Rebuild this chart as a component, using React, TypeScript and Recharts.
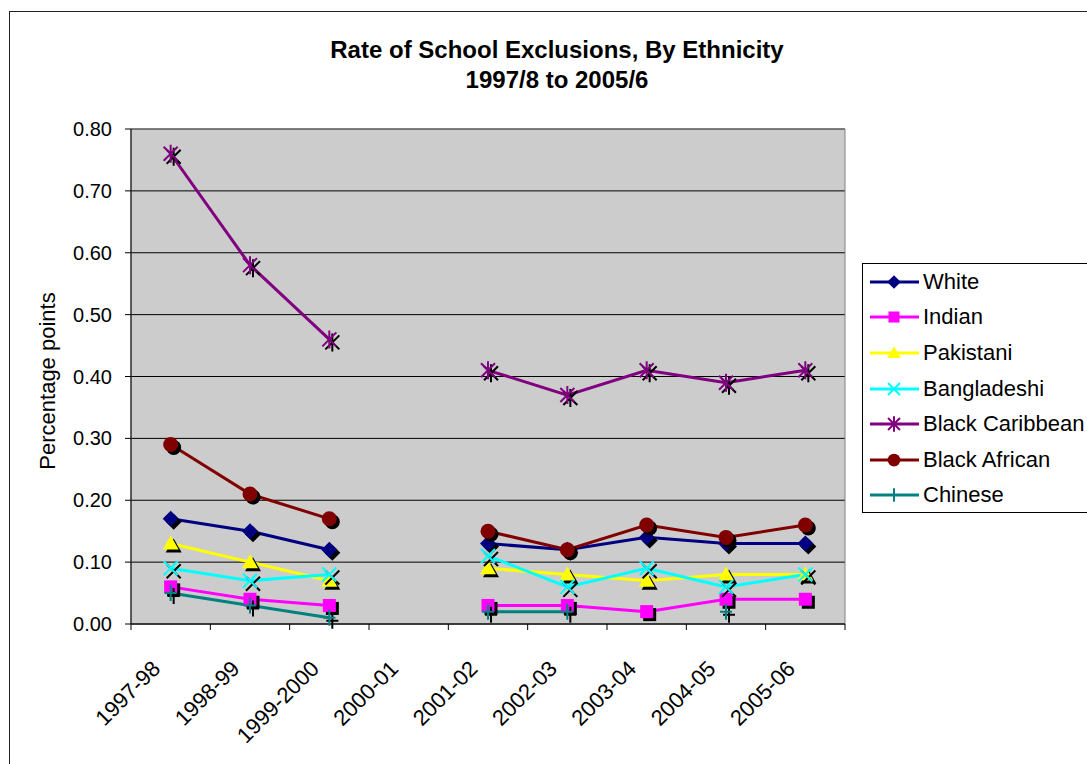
import React from 'react';
import {
  LineChart,
  Line,
  XAxis,
  YAxis,
  CartesianGrid,
  Legend,
  ReferenceArea,
} from 'recharts';

const categories = [
  '1997-98',
  '1998-99',
  '1999-2000',
  '2000-01',
  '2001-02',
  '2002-03',
  '2003-04',
  '2004-05',
  '2005-06',
];

// rates per ethnic group; null = no figure published that year
const white = [0.17, 0.15, 0.12, null, 0.13, 0.12, 0.14, 0.13, 0.13];
const indian = [0.06, 0.04, 0.03, null, 0.03, 0.03, 0.02, 0.04, 0.04];
const pakistani = [0.13, 0.1, 0.07, null, 0.09, 0.08, 0.07, 0.08, 0.08];
const bangladeshi = [0.09, 0.07, 0.08, null, 0.11, 0.06, 0.09, 0.06, 0.08];
const blackCaribbean = [0.76, 0.58, 0.46, null, 0.41, 0.37, 0.41, 0.39, 0.41];
const blackAfrican = [0.29, 0.21, 0.17, null, 0.15, 0.12, 0.16, 0.14, 0.16];
const chinese = [0.05, 0.03, 0.01, null, 0.02, 0.02, null, 0.02, null];

const yTicks = [0, 0.1, 0.2, 0.3, 0.4, 0.5, 0.6, 0.7, 0.8];

type Shape = 'diamond' | 'square' | 'triangle' | 'x' | 'star' | 'circle' | 'plus';

const series: { name: string; values: (number | null)[]; color: string; shape: Shape }[] = [
  { name: 'White', values: white, color: '#000080', shape: 'diamond' },
  { name: 'Indian', values: indian, color: '#FF00FF', shape: 'square' },
  { name: 'Pakistani', values: pakistani, color: '#FFFF00', shape: 'triangle' },
  { name: 'Bangladeshi', values: bangladeshi, color: '#00FFFF', shape: 'x' },
  { name: 'Black Caribbean', values: blackCaribbean, color: '#800080', shape: 'star' },
  { name: 'Black African', values: blackAfrican, color: '#800000', shape: 'circle' },
  { name: 'Chinese', values: chinese, color: '#008080', shape: 'plus' },
];

// x runs 0..9 so ticks sit on category boundaries and points in the middle
const data = categories.map((cat, i) => {
  const row: Record<string, any> = { pos: i + 0.5, category: cat };
  series.forEach((s) => {
    row[s.name] = s.values[i];
  });
  return row;
});

const FONT = 'Arial, "Liberation Sans", sans-serif';

function MarkerShape({
  shape,
  x,
  y,
  color,
  scale = 1,
}: {
  shape: Shape;
  x: number;
  y: number;
  color: string;
  scale?: number;
}) {
  const s = scale;
  switch (shape) {
    case 'diamond': {
      const r = 8 * s;
      return <polygon points={`${x},${y - r} ${x + r},${y} ${x},${y + r} ${x - r},${y}`} fill={color} />;
    }
    case 'square': {
      const h = 6.5 * s;
      return <rect x={x - h} y={y - h} width={2 * h} height={2 * h} fill={color} />;
    }
    case 'triangle': {
      const w = 8 * s;
      return (
        <polygon
          points={`${x},${y - 8 * s} ${x + w},${y + 6 * s} ${x - w},${y + 6 * s}`}
          fill={color}
        />
      );
    }
    case 'circle':
      return <circle cx={x} cy={y} r={7.5 * s} fill={color} />;
    case 'x': {
      const r = 7 * s;
      return (
        <path
          d={`M${x - r},${y - r}L${x + r},${y + r}M${x - r},${y + r}L${x + r},${y - r}`}
          stroke={color}
          strokeWidth={2}
          fill="none"
        />
      );
    }
    case 'star': {
      const r = 7 * s;
      return (
        <path
          d={`M${x - r},${y - r}L${x + r},${y + r}M${x - r},${y + r}L${x + r},${y - r}M${x},${y - 9 * s}V${y + 9 * s}`}
          stroke={color}
          strokeWidth={2}
          fill="none"
        />
      );
    }
    case 'plus':
      return (
        <path
          d={`M${x},${y - 8 * s}V${y + 8 * s}M${x - 6 * s},${y}H${x + 6 * s}`}
          stroke={color}
          strokeWidth={2}
          fill="none"
        />
      );
  }
  return null;
}

// plot markers get a black drop shadow
const shadowDot = (name: string, shape: Shape, color: string) => (props: any) => {
  const { cx, cy, index, value } = props;
  const key = `${name}-${index}`;
  if (value == null || cx == null || cy == null) return <g key={key} />;
  return (
    <g key={key}>
      <MarkerShape shape={shape} x={cx + 3} y={cy + 3} color="#000" />
      <MarkerShape shape={shape} x={cx} y={cy} color={color} />
    </g>
  );
};

function CategoryTick(props: any) {
  const { x, y, payload } = props;
  const i = payload.value;
  if (i >= categories.length) return <g />;
  const axisWidth = props.width ?? 714;
  const cx = x + axisWidth / categories.length / 2 - 9;
  const ty = y + 38;
  return (
    <text
      x={cx}
      y={ty}
      transform={`rotate(-45, ${cx}, ${ty})`}
      textAnchor="end"
      fontSize={22}
      fontFamily={FONT}
      fill="#000"
    >
      {categories[i]}
    </text>
  );
}

function LegendBox() {
  return (
    <div
      style={{
        border: '1px solid #000',
        background: '#fff',
        width: 240,
        height: 250,
        boxSizing: 'border-box',
        fontFamily: FONT,
        fontSize: 22,
        color: '#000',
      }}
    >
      {series.map((s) => (
        <div key={s.name} style={{ display: 'flex', alignItems: 'center', height: 35.6 }}>
          <svg width={60} height={24} style={{ flex: 'none' }}>
            <line x1={7} y1={12} x2={56} y2={12} stroke={s.color} strokeWidth={3} />
            <MarkerShape shape={s.shape} x={31} y={12} color={s.color} scale={0.85} />
          </svg>
          <span style={{ whiteSpace: 'nowrap' }}>{s.name}</span>
        </div>
      ))}
    </div>
  );
}

export default function App() {
  return (
    <div
      style={{
        position: 'absolute',
        left: 0,
        top: 0,
        width: 1087,
        height: 764,
        overflow: 'hidden',
        background: '#fff',
      }}
    >
      <svg
        width={1087}
        height={764}
        style={{ position: 'absolute', left: 0, top: 0 }}
        fontFamily={FONT}
      >
        <rect x={9.5} y={11.5} width={1100} height={800} fill="#fff" stroke="#222" />
        <text x={557} y={58} textAnchor="middle" fontSize={24} fontWeight="bold" fill="#000">
          Rate of School Exclusions, By Ethnicity
        </text>
        <text x={557} y={88} textAnchor="middle" fontSize={24} fontWeight="bold" fill="#000">
          1997/8 to 2005/6
        </text>
        <text
          x={47}
          y={381}
          transform="rotate(-90, 47, 381)"
          textAnchor="middle"
          dominantBaseline="central"
          fontSize={22}
          fill="#000"
        >
          Percentage points
        </text>
      </svg>
      <div style={{ position: 'absolute', left: 0, top: 0 }}>
        <LineChart
          width={1087}
          height={764}
          data={data}
          margin={{ top: 129, right: 242, bottom: 0, left: 71 }}
        >
          <CartesianGrid vertical={false} stroke="#000" fill="#CCCCCC" fillOpacity={1} />
          <ReferenceArea
            x1={0}
            x2={9}
            y1={0}
            y2={0.8}
            fill="none"
            stroke="#808080"
            strokeWidth={1}
            ifOverflow="visible"
          />
          <XAxis
            type="number"
            dataKey="pos"
            domain={[0, 9]}
            ticks={[0, 1, 2, 3, 4, 5, 6, 7, 8, 9]}
            interval={0}
            height={140}
            tickSize={6}
            stroke="#000"
            tickLine={{ stroke: '#000' }}
            tick={<CategoryTick />}
          />
          <YAxis
            type="number"
            domain={[0, 0.8]}
            ticks={yTicks}
            interval={0}
            width={60}
            tickSize={6}
            tickMargin={13}
            stroke="#000"
            tickLine={{ stroke: '#000' }}
            tickFormatter={(v: number) => v.toFixed(2)}
            tick={{ fill: '#000', fontSize: 20, fontFamily: FONT }}
          />
          <Legend
            layout="vertical"
            align="center"
            verticalAlign="middle"
            wrapperStyle={{ position: 'absolute', left: 862, top: 263, width: 240 }}
            content={() => <LegendBox />}
          />
          {series.map((s) => (
            <Line
              key={s.name}
              type="linear"
              dataKey={s.name}
              stroke={s.color}
              strokeWidth={3}
              connectNulls={false}
              dot={shadowDot(s.name, s.shape, s.color)}
              activeDot={false}
              isAnimationActive={false}
            />
          ))}
        </LineChart>
      </div>
    </div>
  );
}
